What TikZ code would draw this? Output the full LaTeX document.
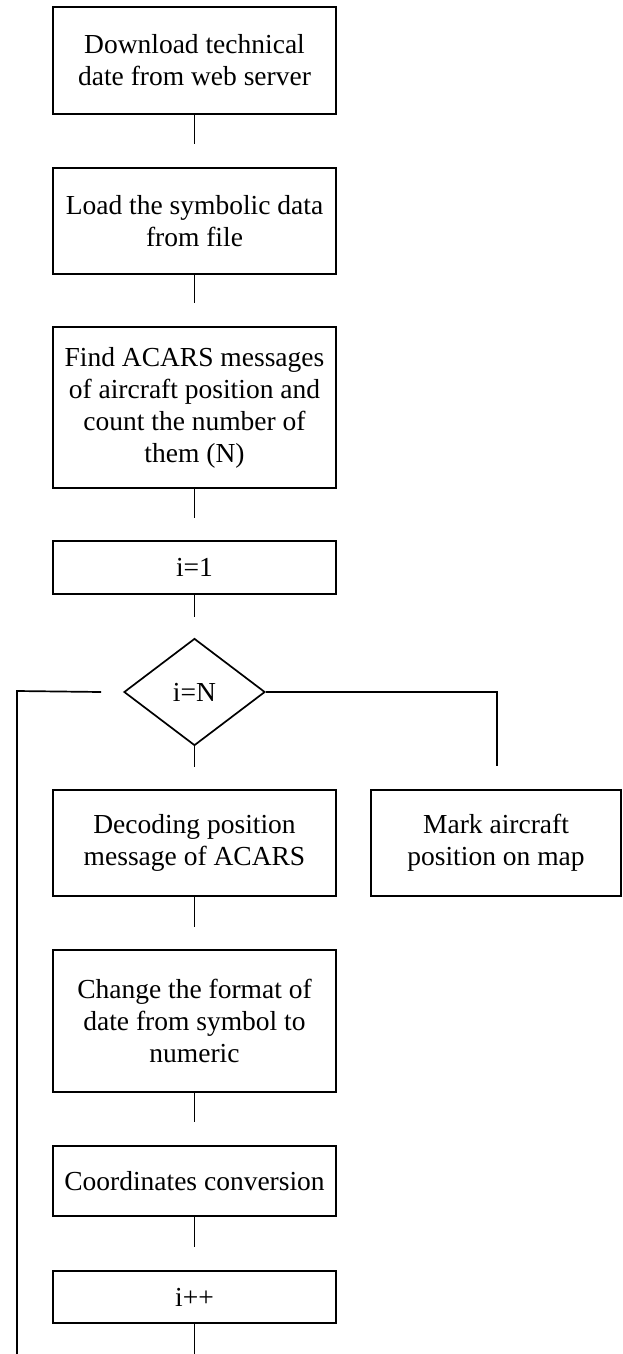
\documentclass[tikz,border=0pt]{standalone}
\usepackage{fontspec}
\setmainfont{Liberation Serif}
\usetikzlibrary{shapes.geometric,calc}
\begin{document}
\begin{tikzpicture}[x=1pt,y=1pt,
  every node/.style={font=\fontsize{27.5}{32}\selectfont},
  box/.style={draw,line width=1.7pt,rectangle,inner sep=0pt,align=center},
  mainbox/.style={box,minimum width=283pt},
  dec/.style={draw,line width=1.7pt,diamond,inner sep=0pt,aspect=1.318,minimum width=141pt,minimum height=107pt},
  conn/.style={line width=1.7pt}]
\useasboundingbox (0,0) rectangle (622,-1354);
\node[mainbox,minimum height=107pt] (b1) at (194.5,-60.5) {Download technical\\date from web server};
\node[mainbox,minimum height=106pt] (b2) at (194.5,-221) {Load the symbolic data\\from file};
\node[mainbox,minimum height=161pt] (b3) at (194.5,-407.5) {Find ACARS messages\\of aircraft position and\\count the number of\\them (N)};
\node[mainbox,minimum height=53pt] (b4) at (194.5,-567.5) {i=1};
\node[dec] (dia) at (194.5,-692) {i=N};
\node[mainbox,minimum height=106pt] (b5) at (194.5,-843) {Decoding position\\message of ACARS};
\node[box,minimum width=250pt,minimum height=106pt] (mark) at (496,-843) {Mark aircraft\\position on map};
\node[mainbox,minimum height=142pt] (b6) at (194.5,-1021) {Change the format of\\date from symbol to\\numeric};
\node[mainbox,minimum height=70pt] (b7) at (194.5,-1181) {Coordinates conversion};
\node[mainbox,minimum height=52pt] (b8) at (194.5,-1297) {i++};
\coordinate (endmain) at (194.5,-1354);
\coordinate (loopcorner) at (17,-691);
\coordinate (loopend) at (17,-1354);
\draw[conn] (b1.south) -- ($(b2.north)+(0,23)$);
\draw[conn] (b2.south) -- ($(b3.north)+(0,23)$);
\draw[conn] (b3.south) -- ($(b4.north)+(0,22)$);
\draw[conn] (b4.south) -- ($(dia.north)+(0,21)$);
\draw[conn] (dia.south) -- ($(b5.north)+(0,22)$);
\draw[conn] (b5.south) -- ($(b6.north)+(0,22)$);
\draw[conn] (b6.south) -- ($(b7.north)+(0,23)$);
\draw[conn] (b7.south) -- ($(b8.north)+(0,23)$);
\draw[conn] (b8.south) -- (endmain);
\draw[conn] ($(dia.west)+(-22,0)$) -- (loopcorner) -- (loopend);
\draw[conn] (dia.east) -| ($(mark.north)+(1,23)$);
\end{tikzpicture}
\end{document}
